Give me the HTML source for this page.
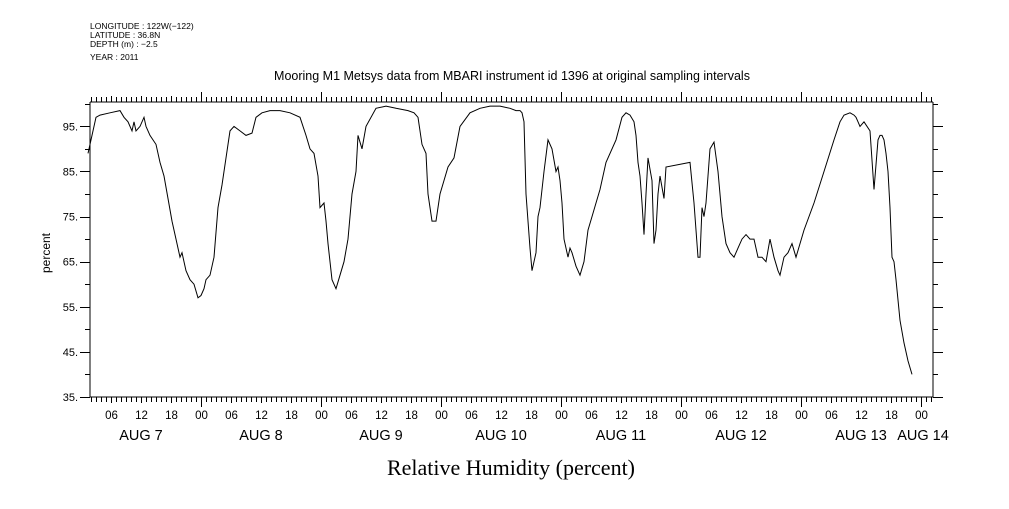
<!DOCTYPE html>
<html><head><meta charset="utf-8"><style>
body{margin:0;background:#fff;}
svg text{font-family:"Liberation Sans",sans-serif;fill:#000;}
</style></head><body>
<svg id="chart" width="1009" height="504" xmlns="http://www.w3.org/2000/svg">
<g font-size="8.5">
<text x="90" y="29">LONGITUDE : 122W(−122)</text>
<text x="90" y="38">LATITUDE : 36.8N</text>
<text x="90" y="47">DEPTH (m) : −2.5</text>
<text x="90" y="60">YEAR : 2011</text>
</g>
<text x="512" y="80" font-size="12.5" text-anchor="middle">Mooring M1 Metsys data from MBARI instrument id 1396 at original sampling intervals</text>
<text x="511" y="475" font-size="22" text-anchor="middle" style="font-family:'Liberation Serif',serif">Relative Humidity (percent)</text>
<text transform="translate(50,253) rotate(-90)" font-size="12" text-anchor="middle">percent</text>
<g id="axes"></g>
<path id="series" fill="none" stroke="#000" stroke-width="1"/>
</svg>
<script>
const hours=[1.4,2.2,3,3.8,5.8,7.8,8.6,9.4,10.2,10.6,11,11.8,12.6,13,13.8,15,15.8,16.6,17.4,18.2,19,19.8,20.2,21,21.8,22.6,23.4,24,24.6,25,25.8,26.6,27.4,28.2,29,29.8,30.6,31.8,33,34.2,35,36.2,37.8,39.8,41.8,43.8,45,45.8,46.6,47.4,47.8,48.6,49,49.4,50.2,51,51.8,52.6,53.4,54.2,55,55.4,56.2,57,59,61,63,65.4,66.6,67.4,68.2,69,69.4,70.2,71,71.8,72.6,73.4,74.6,75.8,77.8,79.8,81.8,83.8,85.8,87,87.8,88.2,88.6,89,89.4,89.8,90.2,91,91.4,91.8,92.6,93.4,94.2,95,95.4,95.8,96.2,96.6,97.4,97.8,98.2,99,99.8,100.6,101.4,102.2,103,103.8,105,107,108.2,109,109.8,110.6,111,111.4,111.8,112.2,112.6,113,113.4,114.2,114.6,115,115.4,115.8,116.6,117,121.8,122.6,123.4,123.8,124.2,124.6,125,125.8,126.6,127.4,128.2,129,129.8,130.6,131.4,132.2,133,133.8,134.6,135.4,136.2,137,137.8,138.6,139.4,139.8,140.2,140.6,141.4,142.2,143,144.6,146.6,148.6,150.6,151.8,152.6,153.8,154.6,155,155.4,155.8,156.6,157.8,158.6,159.4,159.8,160.2,160.6,161,161.4,161.8,162.2,162.6,163,163.8,164.6,165.4,166.2];
const values=[89,93,97,97.5,98,98.5,97,96,94,96,94,95,97,95,93,91,87,84,79,74,70,66,67,63,61,60,57,57.5,59,61,62,66,77,82,88,94,95,94,93,93.5,97,98,98.5,98.5,98,97,93,90,89,84,77,78,74,69,61,59,62,65,70,80,85,93,90,95,99,99.5,99,98.5,98,97,91,89,80,74,74,80,83,86,88,95,98,99,99.5,99.5,99,98.5,98.5,98,96,80,74,68,63,67,75,77,85,92,90,85,86,83,78,70,66,68,67,64,62,65,72,75,78,81,87,92,97,98,97.5,96,93,87,84,78,71,80,88,83,69,72,80,84,79,86,87,78,66,66,77,75,78,90,91.5,85,75,69,67,66,68,70,71,70,70,66,66,65,70,66,63,62,64,66,67,69,66,72,78,85,92,96,97.5,98,97.5,97,96,95,96,94,81,92,93,93,92,89,85,77,66,65,61,52,47,43,40,38.5,38,39];
const yTicks=[35,45,55,65,75,85,95];
const dayLabels=["AUG  7","AUG  8","AUG  9","AUG 10","AUG 11","AUG 12","AUG 13","AUG 14"];
const L=90,R=933,T=102,B=397,H0=1.8,H1=170.4,V0=35,V1=100.4;
const xs=h=>L+(h-H0)/(H1-H0)*(R-L);
const ys=v=>B-(v-V0)/(V1-V0)*(B-T);
const NS="http://www.w3.org/2000/svg";
const ax=document.getElementById('axes');
function ln(x1,y1,x2,y2,name){const e=document.createElementNS(NS,'line');e.setAttribute('x1',x1);e.setAttribute('y1',y1);e.setAttribute('x2',x2);e.setAttribute('y2',y2);e.setAttribute('stroke','#000');e.setAttribute('stroke-width','1');


ax.appendChild(e);}
function tx(x,y,s,size,anchor,name){const e=document.createElementNS(NS,'text');e.setAttribute('x',x);e.setAttribute('y',y);e.setAttribute('font-size',size);e.setAttribute('text-anchor',anchor);e.textContent=s;


ax.appendChild(e);}
ln(L,T,R,T,'plot-frame-top');ln(L,B,R,B,'plot-frame-bottom');ln(L,T,L,B,'plot-frame-left');ln(R,T,R,B,'plot-frame-right');
for(let h=Math.ceil(H0);h<=H1;h++){const x=Math.round(xs(h))+0.5;const big=h%24===0;const mid=h%6===0;
 ln(x,B,x,B+(big?10:mid?6:5),'x-tick');ln(x,T,x,T-(big?10:mid?6:5),'x-tick-top');
 if(mid){tx(x,B+22,String(h%24).padStart(2,'0'),11.5,'middle','x-tick-label');}
}
dayLabels.forEach((d,i)=>{const h=i*24+12;const x=i===7?xs(H1)-10:xs(h);tx(x,B+43,d,14.5,'middle','x-day-label');});
for(let v=35;v<=100;v+=5){const y=Math.round(ys(v))+0.5;const big=(v-35)%10===0;ln(L,y,L-(big?10:5),y,'y-tick');ln(R,y,R+(big?10:5),y,'y-tick-right');}
yTicks.forEach(v=>tx(L-12,ys(v)+4,v+'.',11,'end','y-tick-label'));
document.getElementById('series').setAttribute('d',hours.map((h,i)=>(i?'L':'M')+xs(h).toFixed(1)+' '+ys(values[i]).toFixed(1)).join(' '));
</script>
</body></html>
